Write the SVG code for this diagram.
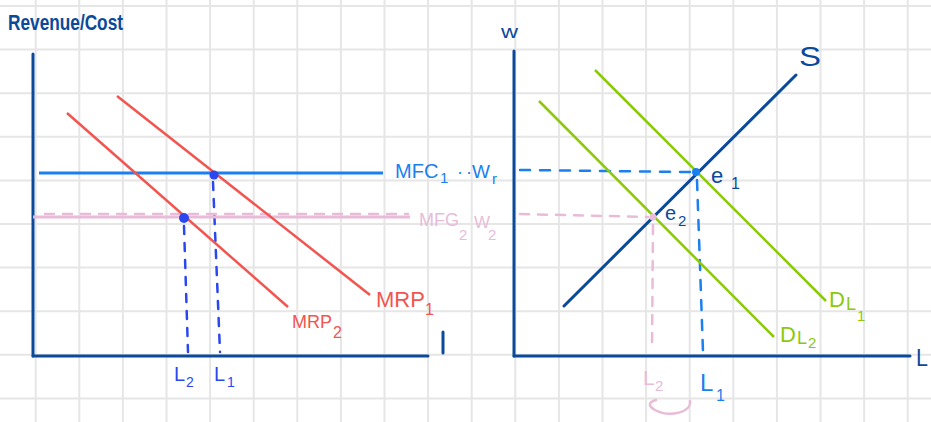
<svg xmlns="http://www.w3.org/2000/svg" width="931" height="422" viewBox="0 0 931 422">
<style>
.grid line{stroke:#e6e6e6;stroke-width:2}
.axis{stroke:#0b4a9a;stroke-width:3;fill:none;stroke-linecap:round}
.red{stroke:#f2554f;stroke-width:2.5;fill:none}
.green{stroke:#8cc90a;stroke-width:2.5;fill:none}
.mfc{stroke:#1a7ff0;stroke-width:3;fill:none}
.pink{stroke:#e8bcd9;stroke-width:3;fill:none}
.pdash{stroke:#e8bcd9;stroke-width:2.5;fill:none;stroke-dasharray:9 9;stroke-linecap:round}
.bdash{stroke:#2b48f0;stroke-width:2.5;fill:none;stroke-dasharray:8 9;stroke-linecap:round}
.cdash{stroke:#1a7ff0;stroke-width:2.5;fill:none;stroke-dasharray:10 10;stroke-linecap:round}
text{font-family:"Liberation Sans","DejaVu Sans",sans-serif}
.t-axis{fill:#0b4a9a}
.t-red{fill:#f2554f}
.t-green{fill:#8cc90a}
.t-blue{fill:#1a7ff0}
.t-pink{fill:#e8bcd9}
.t-pt{fill:#2b48f0}
</style>
<g class="grid">
<line x1="35.7" y1="0" x2="35.7" y2="422"/><line x1="79.3" y1="0" x2="79.3" y2="422"/><line x1="122.9" y1="0" x2="122.9" y2="422"/><line x1="166.5" y1="0" x2="166.5" y2="422"/><line x1="210.1" y1="0" x2="210.1" y2="422"/><line x1="253.7" y1="0" x2="253.7" y2="422"/><line x1="297.3" y1="0" x2="297.3" y2="422"/><line x1="340.9" y1="0" x2="340.9" y2="422"/><line x1="384.5" y1="0" x2="384.5" y2="422"/><line x1="428.1" y1="0" x2="428.1" y2="422"/><line x1="471.7" y1="0" x2="471.7" y2="422"/><line x1="515.3" y1="0" x2="515.3" y2="422"/><line x1="558.9" y1="0" x2="558.9" y2="422"/><line x1="602.5" y1="0" x2="602.5" y2="422"/><line x1="646.1" y1="0" x2="646.1" y2="422"/><line x1="689.7" y1="0" x2="689.7" y2="422"/><line x1="733.3" y1="0" x2="733.3" y2="422"/><line x1="776.9" y1="0" x2="776.9" y2="422"/><line x1="820.5" y1="0" x2="820.5" y2="422"/><line x1="864.1" y1="0" x2="864.1" y2="422"/><line x1="907.7" y1="0" x2="907.7" y2="422"/>
<line x1="0" y1="6" x2="931" y2="6"/><line x1="0" y1="49.6" x2="931" y2="49.6"/><line x1="0" y1="93.2" x2="931" y2="93.2"/><line x1="0" y1="136.8" x2="931" y2="136.8"/><line x1="0" y1="180.4" x2="931" y2="180.4"/><line x1="0" y1="224" x2="931" y2="224"/><line x1="0" y1="267.6" x2="931" y2="267.6"/><line x1="0" y1="311.2" x2="931" y2="311.2"/><line x1="0" y1="354.8" x2="931" y2="354.8"/><line x1="0" y1="398.4" x2="931" y2="398.4"/>
</g>
<g id="left-axes">
<line class="axis" x1="33" y1="54" x2="33" y2="356"/>
<line class="axis" x1="33" y1="356" x2="428" y2="356"/>
<line class="axis" x1="443" y1="332" x2="443" y2="353"/>
<text class="t-axis" x="8" y="30" font-size="22" font-weight="bold" textLength="115" lengthAdjust="spacingAndGlyphs">Revenue/Cost</text>
</g>
<g id="right-axes">
<line class="axis" x1="514" y1="51" x2="514" y2="356"/>
<line class="axis" x1="514" y1="356" x2="910" y2="356"/>
<text class="t-axis" x="501" y="38" font-size="18" textLength="17" lengthAdjust="spacingAndGlyphs">w</text>
<text class="t-axis" x="916" y="366" font-size="24" textLength="12" lengthAdjust="spacingAndGlyphs">L</text>
</g>
<g id="connectors">
<line class="bdash" x1="213" y1="182" x2="220" y2="352"/>
<line class="bdash" x1="184" y1="226" x2="188" y2="352"/>
<line class="cdash" x1="520" y1="170" x2="690" y2="172"/>
<line class="cdash" x1="697" y1="180" x2="703" y2="352"/>
<line class="pdash" x1="520" y1="214" x2="648" y2="217"/>
<line class="pdash" x1="653" y1="225" x2="652" y2="350"/>
<path d="M690 401 C 692 412, 670 418, 655 410 C 648 406, 648 402, 656 400" stroke="#e8bcd9" stroke-width="2.5" fill="none" stroke-linecap="round"/>
</g>
<g id="MFC1">
<line class="mfc" x1="39" y1="173" x2="383" y2="173"/>
<text class="t-blue" x="395" y="178" font-size="20">MFC<tspan x="440" y="183" font-size="15">1</tspan><tspan x="457" y="178" font-size="18">·</tspan><tspan x="466" y="178" font-size="18">·</tspan><tspan x="472" y="178" font-size="19">W</tspan><tspan x="492" y="184" font-size="15">r</tspan></text>
</g>
<g id="MFC2">
<line class="pink" x1="33" y1="217" x2="410" y2="217"/>
<line class="pdash" x1="45" y1="214" x2="408" y2="214" stroke-dasharray="10 14"/>
<text class="t-pink" x="419" y="226" font-size="18">MFG<tspan x="459" y="240" font-size="15">2</tspan><tspan x="474" y="228" font-size="17">W</tspan><tspan x="488" y="240" font-size="15">2</tspan></text>
</g>
<g id="MRP1">
<line class="red" x1="117" y1="96" x2="370" y2="295"/>
<text class="t-red" x="376" y="307" font-size="22">MRP<tspan x="425" y="315" font-size="16">1</tspan></text>
</g>
<g id="MRP2">
<line class="red" x1="67" y1="113" x2="288" y2="307"/>
<text class="t-red" x="292" y="328" font-size="18">MRP<tspan x="333" y="338" font-size="16">2</tspan></text>
</g>
<g id="point-1">
<circle cx="214" cy="175" r="4.5" fill="#2b48f0"/>
<text class="t-pt" x="214" y="381" font-size="20">L<tspan x="227" y="387" font-size="14">1</tspan></text>
</g>
<g id="point-2">
<circle cx="184" cy="218" r="5" fill="#2b48f0"/>
<text class="t-pt" x="174" y="381" font-size="20">L<tspan x="186" y="387" font-size="14">2</tspan></text>
</g>
<g id="S">
<line class="axis" x1="564" y1="306" x2="796" y2="75" stroke-width="2.5"/>
<text class="t-axis" x="799" y="66" font-size="28" textLength="22" lengthAdjust="spacingAndGlyphs">S</text>
</g>
<g id="DL1">
<line class="green" x1="595" y1="70" x2="826" y2="301"/>
<text class="t-green" x="829" y="307" font-size="22">D<tspan x="846" y="310" font-size="18">L</tspan><tspan x="857" y="321" font-size="15">1</tspan></text>
</g>
<g id="DL2">
<line class="green" x1="539" y1="101" x2="774" y2="337"/>
<text class="t-green" x="780" y="342" font-size="22">D<tspan x="797" y="344" font-size="18">L</tspan><tspan x="808" y="348" font-size="15">2</tspan></text>
</g>
<g id="e1">
<circle cx="696" cy="172" r="4" fill="#1a7ff0"/>
<text class="t-axis" x="711" y="183" font-size="22">e<tspan x="731" y="189" font-size="16">1</tspan></text>
</g>
<g id="e2">
<circle cx="653" cy="217" r="3.5" fill="#e8bcd9"/>
<text class="t-axis" x="665" y="220" font-size="20">e<tspan x="678" y="226" font-size="15">2</tspan></text>
</g>
<g id="L-labels-right">
<text class="t-pink" x="643" y="385" font-size="21">L<tspan x="655" y="391" font-size="15">2</tspan></text>
<text class="t-blue" x="700" y="391" font-size="24">L<tspan x="716" y="401" font-size="16">1</tspan></text>
</g>
</svg>
